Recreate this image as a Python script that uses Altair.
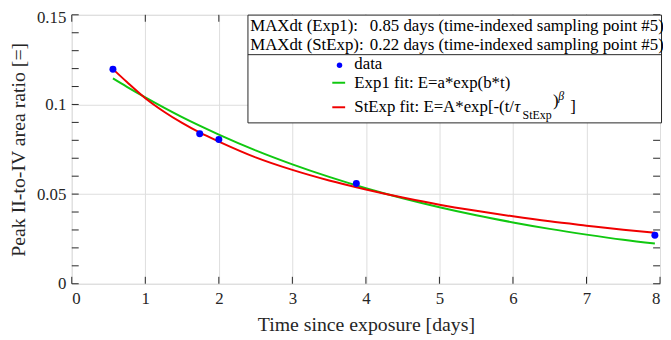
import altair as alt
import pandas as pd

# ---- data ----
data_t = [0.56, 1.74, 2.0, 3.87, 7.93]
data_v = [0.1197, 0.0837, 0.0804, 0.0559, 0.0270]

exp1_t = [0.56, 0.75, 1.0, 1.5, 2.0, 2.5, 3.0, 3.5, 4.0, 4.5, 5.0, 5.5, 6.0, 6.5, 7.0, 7.5, 7.93]
exp1_v = [0.1145, 0.1098, 0.1039, 0.0929, 0.0832, 0.0744, 0.0666, 0.0596, 0.0533,
          0.0477, 0.0427, 0.0382, 0.0342, 0.0306, 0.0274, 0.0245, 0.0224]

stexp_t = [0.56, 0.75, 1.0, 1.25, 1.5, 1.75, 2.0, 2.5, 3.0, 3.5, 4.0, 4.5, 5.0, 5.5, 6.0, 6.5, 7.0, 7.5, 7.93]
stexp_v = [0.1197, 0.1125, 0.1035, 0.0961, 0.0897, 0.0841, 0.0793, 0.0705, 0.0635, 0.0576,
           0.0526, 0.0481, 0.0441, 0.0407, 0.0376, 0.0348, 0.0324, 0.0301, 0.0284]

x_ticks = [0, 1, 2, 3, 4, 5, 6, 7, 8]
y_ticks = [0, 0.05, 0.1, 0.15]
y_minor = [0, 0.01, 0.02, 0.03, 0.04, 0.05, 0.06, 0.07, 0.08, 0.09, 0.1,
           0.11, 0.12, 0.13, 0.14, 0.15]

line1_label = "MAXdt (Exp1):"
line1_value = "0.85 days (time-indexed sampling point #5)"
line2_label = "MAXdt (StExp):"
line2_value = "0.22 days (time-indexed sampling point #5)"
leg_data = "data"
leg_exp1 = "Exp1 fit: E=a*exp(b*t)"
leg_stexp_main = "StExp fit: E=A*exp[-(t/"
leg_tau = "τ"
leg_sub = "StExp"
leg_paren = ")"
leg_beta = "β"
leg_close = "]"

FONT = "Liberation Serif"
W, H = 595, 272
INK = "#262626"
GREEN = "#10c810"
RED = "#f00000"
BLUE = "#0000ff"

xs = alt.Scale(domain=[0, 8], nice=False)
ys = alt.Scale(domain=[0, 0.15], nice=False)

df_pts = pd.DataFrame({"t": data_t, "v": data_v})
df_exp = pd.DataFrame({"t": exp1_t, "v": exp1_v})
df_st = pd.DataFrame({"t": stexp_t, "v": stexp_v})
df_xt = pd.DataFrame({"t": x_ticks})
df_ym = pd.DataFrame({"v": y_minor})
one = pd.DataFrame({"a": [0]})

xaxis = alt.Axis(values=x_ticks, grid=True, gridColor="#dedede", ticks=False, domain=False,
                 labelFont=FONT, labelFontSize=17, labelColor=INK, labelPadding=7,
                 title="Time since exposure [days]", titleFont=FONT, titleFontSize=20,
                 titleFontWeight="normal", titleColor=INK, titlePadding=8, format="d")
yaxis = alt.Axis(values=y_ticks, grid=True, gridColor="#dedede", ticks=False, domain=False,
                 labelFont=FONT, labelFontSize=17, labelColor=INK, labelPadding=6,
                 labelExpr="datum.value == 0 ? '0' : format(datum.value, '.2~f')",
                 labelOffset={"condition": {"test": "datum.value > 0.149", "value": 3}, "value": 0},
                 title="Peak II-to-IV area ratio [=]", titleFont=FONT, titleFontSize=20,
                 titleFontWeight="normal", titleColor=INK, titlePadding=8)

base_grid = alt.Chart(df_pts).mark_point(opacity=0).encode(
    x=alt.X("t:Q", scale=xs, axis=xaxis),
    y=alt.Y("v:Q", scale=ys, axis=yaxis),
)

tick_len = 7
yt_left = alt.Chart(df_ym).mark_rule(color=INK, strokeWidth=1).encode(
    y=alt.Y("v:Q", scale=ys), x=alt.value(0), x2=alt.value(tick_len))
yt_right = alt.Chart(df_ym).mark_rule(color=INK, strokeWidth=1).encode(
    y=alt.Y("v:Q", scale=ys), x=alt.value(W - tick_len), x2=alt.value(W))
xt_bot = alt.Chart(df_xt).mark_rule(color=INK, strokeWidth=1).encode(
    x=alt.X("t:Q", scale=xs), y=alt.value(H - tick_len), y2=alt.value(H))
xt_top = alt.Chart(df_xt).mark_rule(color=INK, strokeWidth=1).encode(
    x=alt.X("t:Q", scale=xs), y=alt.value(0), y2=alt.value(tick_len))

green_line = alt.Chart(df_exp).mark_line(color=GREEN, strokeWidth=2, interpolate="monotone").encode(
    x=alt.X("t:Q", scale=xs), y=alt.Y("v:Q", scale=ys))
red_line = alt.Chart(df_st).mark_line(color=RED, strokeWidth=2, interpolate="monotone").encode(
    x=alt.X("t:Q", scale=xs), y=alt.Y("v:Q", scale=ys))
pts = alt.Chart(df_pts).mark_circle(color=BLUE, size=50, opacity=1).encode(
    x=alt.X("t:Q", scale=xs), y=alt.Y("v:Q", scale=ys))

# legend box (annotation, pixel placed)
L, R, T, B = 178.2, 596.5, 0.3, 109.3
box = alt.Chart(one).mark_rect(fill="white", stroke=INK, strokeWidth=1).encode(
    x=alt.value(L), x2=alt.value(R), y=alt.value(T), y2=alt.value(B))
sep = alt.Chart(one).mark_rule(color=INK, strokeWidth=1).encode(
    x=alt.value(L), x2=alt.value(R), y=alt.value(40.3))

def txt(s, x, y, size=17, style="normal"):
    return alt.Chart(one).mark_text(text=s, font=FONT, fontSize=size, color="black",
                                    align="left", baseline="alphabetic", fontStyle=style).encode(
        x=alt.value(x), y=alt.value(y))

t1a = txt(line1_label, 180.5, 16.5)
t1b = txt(line1_value, 301.5, 16.5)
t2a = txt(line2_label, 180.5, 35.8)
t2b = txt(line2_value, 301.5, 35.8)

leg_dot = alt.Chart(one).mark_circle(color=BLUE, size=30, opacity=1).encode(
    x=alt.value(270.8), y=alt.value(51))
leg_g = alt.Chart(one).mark_rule(color=GREEN, strokeWidth=2).encode(
    x=alt.value(263.5), x2=alt.value(276.5), y=alt.value(68.7))
leg_r = alt.Chart(one).mark_rule(color=RED, strokeWidth=2).encode(
    x=alt.value(263.5), x2=alt.value(276.5), y=alt.value(93.5))

t3 = txt(leg_data, 285.8, 55.3)
t4 = txt(leg_exp1, 285.8, 74.3)
t5 = txt(leg_stexp_main, 285.8, 98)
t5tau = txt(leg_tau, 447.5, 98, style="italic")
t5sub = txt(leg_sub, 456, 105.3, size=12)
t5par = txt(leg_paren, 486.8, 92)
t5beta = txt(leg_beta, 492, 86, size=12, style="italic")
t5close = txt(leg_close, 504.2, 98)

chart = alt.layer(
    base_grid, green_line, red_line, pts,
    yt_left, yt_right, xt_bot, xt_top,
    box, sep, t1a, t1b, t2a, t2b, leg_dot, leg_g, leg_r,
    t3, t4, t5, t5tau, t5sub, t5par, t5beta, t5close,
).properties(
    width=W, height=H,
    autosize=alt.AutoSizeParams(type="none"),
    padding={"left": 64.5, "top": 5, "right": 3, "bottom": 55},
    background="white",
).configure_view(stroke=INK, strokeWidth=1).configure_axis(
    labelFont=FONT, titleFont=FONT
).configure(font=FONT)

chart.save("out.html", embed_options={"renderer": "svg", "actions": False})
